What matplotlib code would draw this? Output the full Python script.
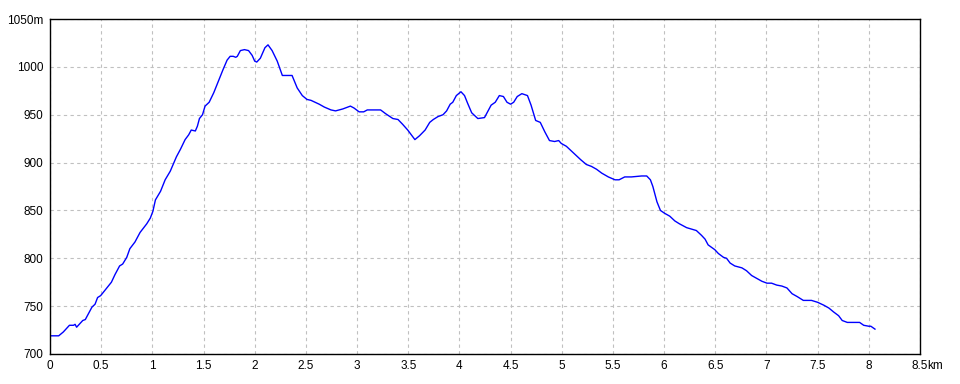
import matplotlib
matplotlib.use('Agg')
import matplotlib.pyplot as plt

# distance (km) and elevation (m)
DIST = [0, 0.085, 0.13, 0.19, 0.23, 0.245, 0.26, 0.32, 0.345, 0.41, 0.44, 0.465, 0.495,
        0.555, 0.6, 0.635, 0.68, 0.71, 0.75, 0.78, 0.83, 0.88, 0.945, 0.98, 1.005, 1.03,
        1.08, 1.125, 1.175, 1.235, 1.275, 1.32, 1.355, 1.38, 1.42, 1.44, 1.46, 1.49,
        1.515, 1.555, 1.6, 1.645, 1.69, 1.73, 1.76, 1.79, 1.815, 1.83, 1.86, 1.9, 1.94,
        1.975, 2.0, 2.02, 2.055, 2.1, 2.13, 2.17, 2.22, 2.27, 2.365, 2.415, 2.465, 2.51,
        2.55, 2.63, 2.68, 2.745, 2.79, 2.86, 2.935, 2.97, 3.02, 3.065, 3.1, 3.23, 3.28,
        3.35, 3.4, 3.445, 3.495, 3.53, 3.565, 3.61, 3.665, 3.71, 3.745, 3.79, 3.84,
        3.875, 3.91, 3.935, 3.97, 4.015, 4.05, 4.08, 4.12, 4.18, 4.245, 4.27, 4.31,
        4.35, 4.39, 4.43, 4.465, 4.5, 4.53, 4.565, 4.61, 4.665, 4.7, 4.745, 4.79, 4.835,
        4.88, 4.93, 4.97, 4.995, 5.045, 5.085, 5.135, 5.185, 5.24, 5.29, 5.34, 5.39,
        5.455, 5.52, 5.56, 5.615, 5.68, 5.78, 5.83, 5.866, 5.89, 5.93, 5.964, 6.005,
        6.055, 6.105, 6.15, 6.22, 6.315, 6.365, 6.4, 6.43, 6.495, 6.53, 6.58, 6.61,
        6.645, 6.69, 6.76, 6.805, 6.855, 6.905, 6.955, 7.005, 7.05, 7.1, 7.15, 7.2,
        7.25, 7.3, 7.36, 7.44, 7.5, 7.56, 7.61, 7.655, 7.705, 7.74, 7.79, 7.91, 7.95,
        8.0, 8.02, 8.06]
ELEV = [719, 719, 723, 730, 730, 731, 728, 735, 736, 749, 752, 759, 761,
        769, 775, 783, 792, 794, 801, 810, 817, 827, 836, 842, 849, 861,
        870, 882, 891, 906, 914, 924, 929, 934, 933, 938, 946, 950,
        959, 963, 973, 985, 997, 1007, 1011, 1011, 1010, 1011, 1017, 1018, 1017,
        1012, 1006, 1005, 1009, 1020, 1023, 1017, 1006, 991, 991, 978, 970, 966,
        965, 961, 958, 955, 954, 956, 959, 957, 953, 953, 955, 955, 951,
        946, 945, 940, 934, 929, 924, 928, 934, 942, 945, 948, 950,
        954, 961, 963, 970, 974, 970, 962, 952, 946, 947, 952, 960,
        963, 970, 969, 963, 961, 963, 969, 972, 970, 960, 944, 942, 932,
        923, 922, 923, 920, 917, 913, 908, 903, 898, 896, 893, 889,
        885, 882, 882, 885, 885, 886, 886, 882, 875, 859, 850, 847,
        844, 839, 836, 832, 829, 824, 820, 814, 809, 805, 801, 800,
        795, 792, 790, 787, 782, 779, 776, 774, 774, 772, 771, 769,
        763, 760, 756, 756, 754, 751, 748, 744, 740, 735, 733, 733, 730,
        729, 729, 726]

X_TICKS = [0, 0.5, 1, 1.5, 2, 2.5, 3, 3.5, 4, 4.5, 5, 5.5, 6, 6.5, 7, 7.5, 8, 8.5]
X_LABELS = ['0', '0.5', '1', '1.5', '2', '2.5', '3', '3.5', '4', '4.5', '5', '5.5',
            '6', '6.5', '7', '7.5', '8', '8.5']
Y_TICKS = [700, 750, 800, 850, 900, 950, 1000, 1050]
Y_LABELS = ['700', '750', '800', '850', '900', '950', '1000', '1050m']

plt.rcParams['font.family'] = ['Liberation Sans', 'DejaVu Sans']

fig = plt.figure(figsize=(9.6, 3.84), dpi=100)
ax = fig.add_axes([50 / 960, 30 / 384, 870 / 960, 335 / 384])

ax.plot(DIST, ELEV, color='#0000ff', linewidth=1.0)

ax.set_xlim(0, 8.5)
ax.set_ylim(700, 1050)
ax.set_xticks(X_TICKS)
ax.set_xticklabels(X_LABELS)
ax.set_yticks(Y_TICKS)
ax.set_yticklabels(Y_LABELS)
ax.tick_params(length=0, labelsize=8.5, colors='black')
ax.tick_params(axis='x', pad=4)
ax.tick_params(axis='y', pad=5)

ax.grid(True, color='#c0c0c0', linestyle=(0, (3, 3)), linewidth=0.8)
for s in ax.spines.values():
    s.set_color('black')
    s.set_linewidth(1.0)

# unit after the last x label
ax.annotate('km', xy=(8.5, 700), xytext=(5.5, -4), textcoords='offset points',
            ha='left', va='top', fontsize=8.5, annotation_clip=False)

fig.savefig('out.png', dpi=100)
